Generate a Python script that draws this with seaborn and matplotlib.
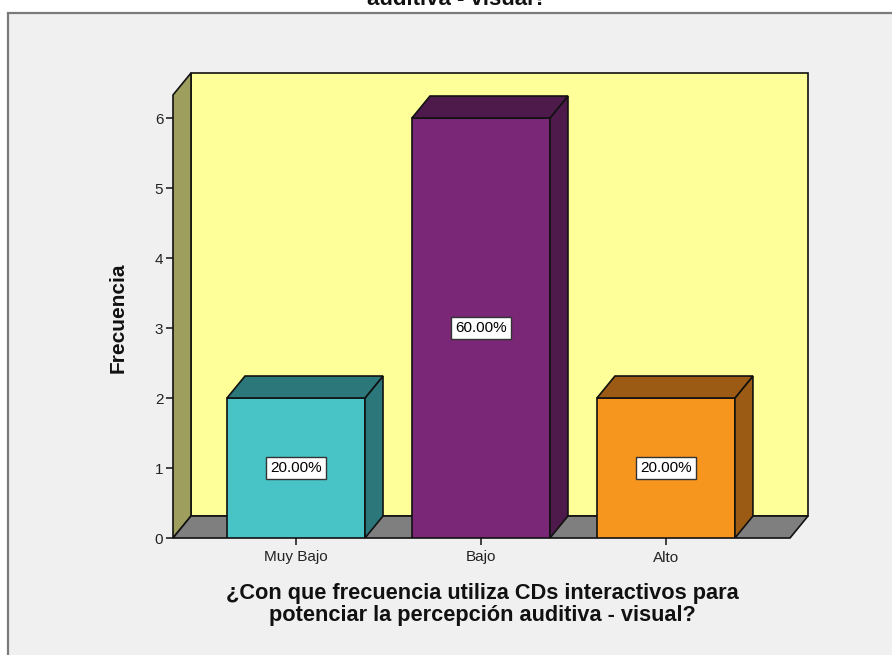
import matplotlib
matplotlib.use("Agg")
import matplotlib.pyplot as plt
import seaborn as sns
from matplotlib.patches import Polygon, Rectangle

# datos
categorias = ['Muy Bajo', 'Bajo', 'Alto']
frecuencias = [2, 6, 2]
porcentajes = ['20.00%', '60.00%', '20.00%']
colores = ['#48C4C6', '#7B2778', '#F7961E']
colores_osc = ['#2B7779', '#4E1A4C', '#9C5B14']

sns.set_theme(style="white")
plt.rcParams['font.family'] = ['Liberation Sans', 'DejaVu Sans']

W, H = 892, 655
fig = plt.figure(figsize=(W / 100, H / 100), dpi=100, facecolor='white')

# marco gris del visor
fig.patches.append(Rectangle((8 / W, -0.1), 2, (H - 13) / H + 0.1, transform=fig.transFigure,
                             facecolor='#F0F0F0', edgecolor='#7A7A7A', lw=1.6, zorder=-5))

# ejes: cubren desde la arista frontal izquierda hasta la pared del fondo
ax = fig.add_axes([173 / W, (H - 538) / H, (808 - 173) / W, (538 - 73) / H])
ax.set_facecolor('none')
ax.set_zorder(3)

xl, xr = -0.665, 2.768
ymax = 6.643
dx, dy = 0.0973, 0.314

ec = '#111111'
lw = 1.2
# pared del fondo
ax.add_patch(Polygon([(xl + dx, dy), (xr, dy), (xr, ymax), (xl + dx, ymax)], closed=True,
                     facecolor='#FFFF99', edgecolor=ec, lw=lw, clip_on=False, zorder=1))
# pared izquierda
ax.add_patch(Polygon([(xl, 0), (xl + dx, dy), (xl + dx, ymax), (xl, ymax - dy)], closed=True,
                     facecolor='#9E9E5E', edgecolor=ec, lw=lw, clip_on=False, zorder=1))
# piso
ax.add_patch(Polygon([(xl, 0), (xr - dx, 0), (xr, dy), (xl + dx, dy)], closed=True,
                     facecolor='#7F7F7F', edgecolor=ec, lw=lw, clip_on=False, zorder=1))

sns.barplot(x=categorias, y=frecuencias, hue=categorias, palette=colores, legend=False,
            width=0.746, edgecolor=ec, linewidth=lw, saturation=1, ax=ax, zorder=3)

barras = [p for p in ax.patches if p.get_zorder() == 3]
for p, c_osc, txt in zip(barras, colores_osc, porcentajes):
    x0, w, h = p.get_x(), p.get_width(), p.get_height()
    x1 = x0 + w
    ax.add_patch(Polygon([(x1, 0), (x1 + dx, dy), (x1 + dx, h + dy), (x1, h)], closed=True,
                         facecolor=c_osc, edgecolor=ec, lw=lw, zorder=3))
    ax.add_patch(Polygon([(x0, h), (x0 + dx, h + dy), (x1 + dx, h + dy), (x1, h)], closed=True,
                         facecolor=c_osc, edgecolor=ec, lw=lw, zorder=3))
    ax.text(x0 + w / 2, h / 2, txt, ha='center', va='center', fontsize=11, color='black', zorder=5,
            bbox=dict(boxstyle='square,pad=0.25', facecolor='white', edgecolor='#333333', lw=1))

ax.set_xlim(xl, xr)
ax.set_ylim(0, ymax)
ax.set_axisbelow(False)

for s in ax.spines.values():
    s.set_visible(False)

ax.set_yticks(range(0, 7))
ax.tick_params(axis='both', direction='out', length=5, width=1.1, colors='#111111',
               labelsize=11, labelcolor='#222222', pad=2)
ax.tick_params(axis='x', pad=4)
ax.yaxis.set_ticks_position('left')
ax.xaxis.set_ticks_position('bottom')

ax.set_ylabel('Frecuencia', fontsize=15, fontweight='bold', color='#111111')
ax.yaxis.set_label_coords(-0.071, 0.473)
ax.set_xlabel('¿Con que frecuencia utiliza CDs interactivos para\npotenciar la percepción auditiva - visual?',
              fontsize=15.7, fontweight='bold', color='#111111', linespacing=1.05)
ax.xaxis.set_label_coords(0.487, -0.097)

# última línea del título (el resto queda fuera de la imagen)
fig.text(457 / W, 1 - 5 / H, 'auditiva - visual?', ha='center', va='baseline',
         fontsize=16, fontweight='bold', color='#111111')

fig.savefig('out.png', dpi=100, facecolor='white')
